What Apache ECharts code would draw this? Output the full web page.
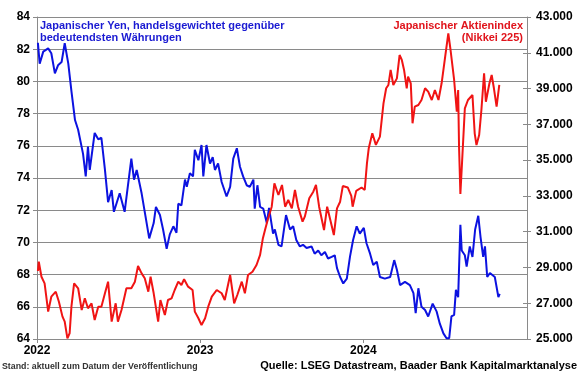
<!DOCTYPE html>
<html>
<head>
<meta charset="utf-8">
<script src="https://cdn.jsdelivr.net/npm/echarts@6/dist/echarts.min.js"></script>
<style>html,body{margin:0;padding:0;background:#fff}#c{width:580px;height:375px}</style>
</head>
<body>
<div id="c"></div>
<script>
const yenDates = ['2022-01-03','2022-01-07','2022-01-15','2022-01-26','2022-02-02','2022-02-10','2022-02-17','2022-02-25','2022-03-04','2022-03-12',
'2022-03-19','2022-03-27','2022-04-03','2022-04-14','2022-04-20','2022-04-25','2022-04-29','2022-05-10','2022-05-18','2022-05-25',
'2022-06-02','2022-06-09','2022-06-17','2022-06-22','2022-07-05','2022-07-16','2022-07-31','2022-08-06','2022-08-12','2022-08-23',
'2022-08-30','2022-09-09','2022-09-19','2022-09-24','2022-10-03','2022-10-10','2022-10-18','2022-10-25','2022-11-02','2022-11-09',
'2022-11-13','2022-11-20','2022-11-28','2022-12-02','2022-12-09','2022-12-16','2022-12-20','2022-12-28','2023-01-04','2023-01-08',
'2023-01-15','2023-01-23','2023-01-29','2023-02-03','2023-02-10','2023-02-18','2023-03-01','2023-03-09','2023-03-16','2023-03-24',
'2023-03-31','2023-04-07','2023-04-15','2023-04-22','2023-04-30','2023-05-03','2023-05-09','2023-05-15','2023-05-22','2023-05-30',
'2023-06-04','2023-06-13','2023-06-17','2023-06-25','2023-07-02','2023-07-12','2023-07-21','2023-07-28',
'2023-08-04','2023-08-12','2023-08-19','2023-08-27','2023-09-07','2023-09-14','2023-09-22','2023-09-29','2023-10-07','2023-10-14',
'2023-10-22','2023-10-29','2023-11-03','2023-11-10','2023-11-17','2023-11-25','2023-12-02','2023-12-09',
'2023-12-17','2023-12-24','2024-01-02','2024-01-08','2024-01-16','2024-01-23','2024-01-31','2024-02-07','2024-02-18','2024-03-01',
'2024-03-10','2024-03-16','2024-03-23','2024-04-03','2024-04-14','2024-04-22','2024-04-27','2024-05-03','2024-05-10','2024-05-18',
'2024-05-25','2024-06-04','2024-06-13','2024-06-20','2024-06-28','2024-07-05','2024-07-11','2024-07-16','2024-07-22','2024-07-26',
'2024-07-31','2024-08-05','2024-08-08','2024-08-15','2024-08-19','2024-08-26','2024-09-01','2024-09-07','2024-09-14','2024-09-19',
'2024-09-25','2024-09-29','2024-10-04','2024-10-10','2024-10-21','2024-10-29','2024-11-01'];
const yenValues = [82.4,81.1,81.85,82.05,81.75,80.5,81.0,81.2,82.37,81.1,
79.4,77.6,77.0,75.5,74.1,75.95,74.5,76.8,76.4,76.5,
74.5,72.5,73.25,71.9,73.05,71.9,75.2,73.9,74.5,73.05,
71.9,70.25,71.2,72.2,71.7,70.8,69.6,70.5,71.0,70.6,
72.4,72.3,73.9,73.45,74.3,74.1,75.75,75.1,76.05,74.1,
76.05,74.9,75.3,74.5,74.9,73.75,72.85,73.45,75.2,75.85,
74.7,74.1,73.55,73.45,73.9,72.1,73.55,72.2,72.1,71.2,
72.15,70.55,70.8,69.85,69.75,71.7,70.8,71.0,
70.15,69.75,69.85,69.65,69.75,69.3,69.5,69.2,69.4,69.0,
69.1,69.2,68.4,67.85,67.45,67.75,69.1,70.15,
71.0,70.55,70.9,69.95,69.3,68.6,68.8,67.85,67.75,67.85,
68.9,68.3,67.35,67.55,67.35,66.85,65.6,67.15,66.0,65.8,
65.4,66.2,65.7,64.95,64.35,64.05,64.05,65.4,65.5,67.05,
66.6,71.1,69.5,69.2,68.5,69.75,69.1,70.8,71.65,70.35,
69.1,69.75,67.85,68.1,67.85,66.6,66.8];

const nikkeiDates = ['2022-01-03','2022-01-05','2022-01-11','2022-01-18','2022-01-26','2022-02-02','2022-02-12','2022-02-19','2022-02-27','2022-03-04',
'2022-03-10','2022-03-15','2022-03-19','2022-03-25','2022-04-03','2022-04-11','2022-04-18','2022-04-25','2022-05-03','2022-05-10',
'2022-05-18','2022-05-25','2022-06-02','2022-06-09','2022-06-17','2022-06-26','2022-07-01','2022-07-09','2022-07-20','2022-07-31',
'2022-08-08','2022-08-15','2022-08-23','2022-08-30','2022-09-07','2022-09-12','2022-09-19','2022-09-29','2022-10-04','2022-10-14',
'2022-10-21','2022-10-29','2022-11-05','2022-11-13','2022-11-20','2022-11-26','2022-12-05','2022-12-15','2022-12-20','2022-12-28',
'2023-01-04','2023-01-12','2023-01-19','2023-01-27','2023-02-07','2023-02-18','2023-02-25','2023-03-09','2023-03-18','2023-03-25',
'2023-04-04','2023-04-11','2023-04-18','2023-04-28','2023-05-07','2023-05-15','2023-05-21','2023-05-26','2023-06-02','2023-06-10',
'2023-06-16','2023-06-25','2023-07-03','2023-07-10','2023-07-17','2023-07-25','2023-08-01','2023-08-08','2023-08-18','2023-08-23',
'2023-09-02','2023-09-11','2023-09-17','2023-09-24','2023-10-05','2023-10-12','2023-10-20','2023-10-27','2023-11-03','2023-11-10',
'2023-11-16','2023-11-27','2023-12-05','2023-12-08','2023-12-16','2023-12-28','2024-01-04','2024-01-09','2024-01-13','2024-01-21',
'2024-01-29','2024-02-07','2024-02-15','2024-02-21','2024-02-26','2024-03-02','2024-03-08','2024-03-16','2024-03-22','2024-03-27',
'2024-04-01','2024-04-07','2024-04-10','2024-04-16','2024-04-20','2024-04-25','2024-05-03','2024-05-10','2024-05-18','2024-05-25',
'2024-06-02','2024-06-09','2024-06-17','2024-06-24','2024-07-02','2024-07-09','2024-07-14','2024-07-22','2024-07-28','2024-07-31',
'2024-08-02','2024-08-05','2024-08-09','2024-08-15','2024-08-22','2024-09-01','2024-09-06','2024-09-10','2024-09-16','2024-09-21',
'2024-09-27','2024-10-01','2024-10-09','2024-10-14','2024-10-19','2024-10-25','2024-10-31'];
const nikkeiValues = [28800,29320,28480,28110,26530,27365,27645,27085,26250,25970,
25040,25320,26805,28110,27835,26620,27275,26715,26995,26060,
26805,26805,27555,28205,25970,26995,25970,26620,27835,27835,
28205,29080,28670,28395,27645,28480,27555,25970,27180,26340,
27180,27275,27740,28205,28020,28340,27925,27740,26530,26160,
25780,26160,26805,27365,27740,27555,27180,28580,26995,27460,
28205,27555,28580,28760,29135,29700,30600,31090,31750,32395,
33700,33050,33610,32395,32770,32305,33330,32395,31560,31840,
32865,33235,33610,32395,31090,32395,31560,30810,32305,32675,
33550,33470,33000,32395,33280,33470,33330,34820,35660,36500,
35850,36310,38175,39015,39200,40040,39200,39570,40875,40600,
40040,39015,39665,39295,37060,37985,38080,38360,39015,38825,
38360,38920,38360,39295,40780,42090,41155,39480,37705,38920,
35750,33105,35010,37895,38360,38640,36500,35845,36405,37800,
39855,38265,39295,39760,39015,37985,39200];

const leftTicks = {min: 64, max: 84, step: 2};
const rightTicks = {min: 25000, max: 43000, step: 2000};
const xRange = {min: '2022-01-01', max: '2025-01-01'};
const yenLabel = 'Japanischer Yen, handelsgewichtet gegenüber\nbedeutendsten Währungen';
const nikkeiLabel1 = 'Japanischer Aktienindex';
const nikkeiLabel2 = '(Nikkei 225)';
const standText = 'Stand: aktuell zum Datum der Veröffentlichung';
const sourceText = 'Quelle: LSEG Datastream, Baader Bank Kapitalmarktanalyse';

const BLUE = '#0c12e0', RED = '#f01414', GRID = '#8a8a8a';
const FONT = '"Liberation Sans", Arial, sans-serif';

const chart = echarts.init(document.getElementById('c'), null, {renderer: 'canvas'});
const fmtThousands = v => String(v).replace(/\B(?=(\d{3})+(?!\d))/g, '.');

chart.setOption({
  animation: false,
  backgroundColor: '#fff',
  grid: {left: 37, right: 53, top: 17, bottom: 36, containLabel: false},
  xAxis: {
    type: 'time', min: xRange.min, max: xRange.max,
    splitNumber: 3, minInterval: 365 * 86400000,
    axisLine: {show: true, lineStyle: {color: GRID, width: 1}},
    axisTick: {show: true, length: 4, lineStyle: {color: GRID}},
    splitLine: {show: false},
    axisLabel: {
      formatter: v => String(new Date(v).getFullYear()),
      color: '#000', fontFamily: FONT, fontWeight: 'bold', fontSize: 12,
      margin: 6, showMaxLabel: false, showMinLabel: true
    }
  },
  yAxis: [
    {
      type: 'value', position: 'left', min: leftTicks.min, max: leftTicks.max, interval: leftTicks.step,
      axisLine: {show: true, lineStyle: {color: GRID}},
      axisTick: {show: true, length: 4, lineStyle: {color: GRID}},
      splitLine: {show: true, lineStyle: {color: GRID, width: 1}},
      axisLabel: {color: '#000', fontFamily: FONT, fontWeight: 'bold', fontSize: 12, margin: 7}
    },
    {
      type: 'value', position: 'right', min: rightTicks.min, max: rightTicks.max, interval: rightTicks.step,
      axisLine: {show: true, lineStyle: {color: GRID}},
      axisTick: {show: true, length: 4, lineStyle: {color: GRID}},
      splitLine: {show: false},
      axisLabel: {color: '#000', fontFamily: FONT, fontWeight: 'bold', fontSize: 12, margin: 9, formatter: fmtThousands}
    },
    {
      type: 'value', position: 'right', min: rightTicks.min, max: rightTicks.max, interval: rightTicks.step,
      axisLine: {show: false},
      axisTick: {show: true, inside: true, length: 4, lineStyle: {color: GRID}},
      splitLine: {show: false},
      axisLabel: {show: false}
    }
  ],
  series: [
    {
      name: 'Yen', type: 'line', yAxisIndex: 0, showSymbol: false, symbol: 'none',
      lineStyle: {color: BLUE, width: 2}, z: 2,
      data: yenDates.map((d, i) => [d, yenValues[i]])
    },
    {
      name: 'Nikkei', type: 'line', yAxisIndex: 1, showSymbol: false, symbol: 'none',
      lineStyle: {color: RED, width: 2}, z: 3,
      data: nikkeiDates.map((d, i) => [d, nikkeiValues[i]])
    }
  ],
  graphic: [
    {type: 'text', left: 40, top: 20, z: 10,
     style: {text: yenLabel, fill: '#1a1ad2', fontFamily: FONT, fontWeight: 'bold', fontSize: 11, lineHeight: 12}},
    {type: 'text', right: 57, top: 20, z: 10,
     style: {text: nikkeiLabel1, fill: '#e0141c', fontFamily: FONT, fontWeight: 'bold', fontSize: 11, lineHeight: 12}},
    {type: 'text', right: 57, top: 32, z: 10,
     style: {text: nikkeiLabel2, fill: '#e0141c', fontFamily: FONT, fontWeight: 'bold', fontSize: 11, lineHeight: 12}},
    {type: 'text', left: 2, top: 362, z: 10,
     style: {text: standText, fill: '#333', fontFamily: FONT, fontWeight: 'bold', fontSize: 8.8}},
    {type: 'text', right: 3, top: 360, z: 10,
     style: {text: sourceText, fill: '#000', fontFamily: FONT, fontWeight: 'bold', fontSize: 11}}
  ]
});
</script>
</body>
</html>
